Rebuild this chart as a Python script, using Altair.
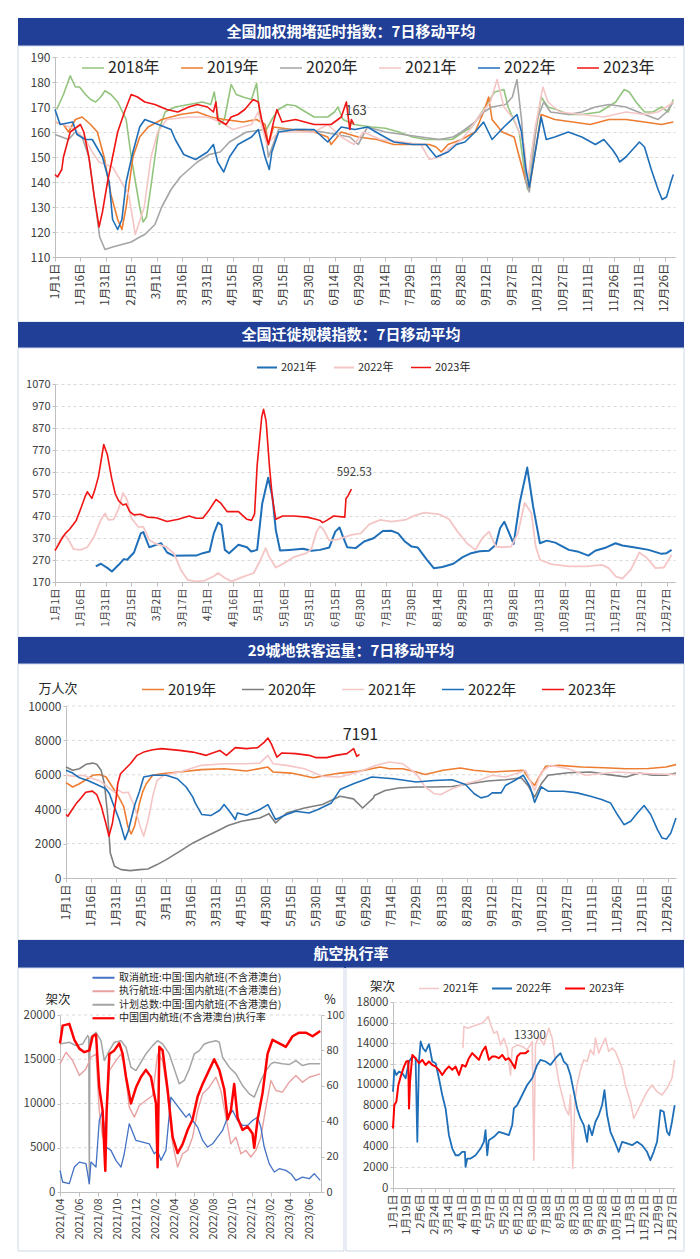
import altair as alt
import pandas as pd

FONT = "Noto Sans CJK SC"
HEAD_BG = "#213f96"
BORDER = "#cfd8e8"
GRID = "#d9d9d9"
AXC = "#bfbfbf"
LBL = "#404040"

title_congestion = "全国加权拥堵延时指数：7日移动平均"
title_migration = "全国迁徙规模指数：7日移动平均"
title_metro = "29城地铁客运量：7日移动平均"
title_air = "航空执行率"

ticks_leap = ["1月1日", "1月16日", "1月31日", "2月15日", "3月1日", "3月16日", "3月31日", "4月15日",
              "4月30日", "5月15日", "5月30日", "6月14日", "6月29日", "7月14日", "7月29日", "8月13日",
              "8月28日", "9月12日", "9月27日", "10月12日", "10月27日", "11月11日", "11月26日",
              "12月11日", "12月26日"]
ticks_migr = ["1月1日", "1月16日", "1月31日", "2月15日", "3月2日", "3月17日", "4月1日", "4月16日",
              "5月1日", "5月16日", "5月31日", "6月15日", "6月30日", "7月15日", "7月30日", "8月14日",
              "8月29日", "9月13日", "9月28日", "10月13日", "10月28日", "11月12日", "11月27日",
              "12月12日", "12月27日"]
ticks_air = ["1月1日", "1月19日", "2月6日", "2月24日", "3月14日", "4月1日", "4月19日", "5月7日",
             "5月25日", "6月12日", "6月30日", "7月18日", "8月5日", "8月23日", "9月10日", "9月28日",
             "10月16日", "11月3日", "11月21日", "12月9日", "12月27日"]
ticks_month = ["2021/04", "2021/06", "2021/08", "2021/10", "2021/12", "2022/02", "2022/04",
               "2022/06", "2022/08", "2022/10", "2022/12", "2023/02", "2023/04", "2023/06"]

# ---------------- Panel 1: congestion index (day of year, value) ----------------
cong_names = ["2018年", "2019年", "2020年", "2021年", "2022年", "2023年"]
cong_colors = ["#93c47d", "#ed7d31", "#a5a5a5", "#f5c6c6", "#1f6fb8", "#f01414"]
cong_widths = [1.6, 1.6, 2.6, 1.6, 1.9, 3.0]

cong_2018 = [(1, 169), (5, 175), (9, 182.5), (12, 178), (14.5, 178), (18, 175), (21, 173), (24, 172),
             (27, 174), (29.5, 176.5), (33, 175), (37, 172), (42, 165), (45, 150), (47.5, 140),
             (50, 130), (52, 124), (54, 126), (57, 140), (59, 150), (61, 160), (65, 168), (71, 170),
             (79, 171), (87, 172), (92, 171), (94, 176), (97, 163), (100, 165), (104, 179), (107, 175),
             (111, 174), (116, 173), (119, 179.5), (121, 166), (124, 160), (128, 165), (132, 169),
             (137, 171), (142, 170.5), (148, 168), (153, 166), (161, 166), (165, 168), (167, 170),
             (170, 165), (176.5, 163), (187, 162), (195, 161.5), (203, 160), (211, 158), (219, 157),
             (228, 157), (234.5, 157), (241, 160), (246, 162), (250, 166), (254, 170), (259.5, 176),
             (265, 177), (267.5, 170), (274, 160), (277, 145), (279, 137), (281, 150), (285, 165),
             (287, 174), (291, 170), (296, 169), (303, 167), (311, 167), (321.5, 168), (331, 172),
             (336, 177), (339, 176), (343, 172), (348, 168), (353, 168), (358, 170), (362, 168),
             (365, 173)]
cong_2019 = [(0, 164), (5, 163), (8, 160), (12, 165), (16, 166), (21, 163), (25, 160), (29, 150),
             (33, 135), (37, 125), (39.5, 121), (42, 130), (46, 150), (50, 158), (55, 162), (63, 165),
             (74, 167), (84, 168), (92, 166), (100, 165), (111, 164), (119, 165), (124, 163),
             (126, 155), (129, 162), (140, 161), (153, 160), (161, 158), (163, 155), (169, 160),
             (179, 158), (190, 157), (200, 155), (211, 155), (221, 155), (225, 154), (228, 152),
             (232, 155), (240, 157), (248, 160), (253, 168), (256, 174), (258, 165), (264, 160),
             (271, 158), (278, 140), (280, 137), (283, 150), (287, 167), (295, 165), (305.7, 164),
             (316, 163), (327, 165), (337, 165), (348, 164), (358, 163), (365, 164)]
cong_2020 = [(0, 159), (4, 158), (8, 157), (12, 160), (16, 158), (20, 150), (24, 130), (26.4, 118),
             (29.5, 113), (34, 114), (39.5, 115), (45, 116), (50, 118), (53, 119), (59, 123), (63, 130),
             (68.5, 137), (74, 142), (79, 145), (84, 148), (91, 151), (97.5, 152), (103, 156),
             (113, 160), (124, 161), (126, 150), (132, 161), (148, 161), (158, 160), (174, 158),
             (179, 155), (184.5, 162), (195, 160), (205.5, 159), (216, 158), (227, 157), (235, 158),
             (240, 160), (248, 164), (253, 168), (258, 170), (266, 171), (270, 174), (272.7, 181),
             (275.4, 165), (278, 140), (280, 136), (282, 150), (284.6, 165), (288.5, 172),
             (292.5, 168), (303, 167), (311, 168), (319, 170), (327, 171), (337, 170), (348, 167),
             (356, 165), (361, 168), (365, 172)]
cong_2021 = [(0, 164), (5, 163), (12, 161), (18, 157), (22, 152), (26, 148), (34, 146), (43.5, 135),
             (47.4, 119), (52.7, 130), (56.7, 150), (60.6, 160), (66, 165), (79, 166), (90, 166),
             (97.5, 164), (105, 161), (116, 163), (120, 168), (125, 155), (132, 160), (153, 160),
             (161, 163), (169, 158), (176.5, 155), (182, 160), (192, 157), (205.5, 156), (216, 155),
             (221, 149), (227, 150), (232, 153), (240, 157), (245, 161), (250, 166), (257, 172),
             (261, 181), (265, 170), (271, 165), (277, 155), (279, 140), (283, 160), (288, 178),
             (291, 172), (298, 168), (311, 167), (324, 166), (337, 168), (348, 167), (356, 168),
             (361, 170), (365, 172)]
cong_2022 = [(0, 169), (3, 163), (10.5, 164), (13, 159), (18, 157), (22, 157), (28, 150), (32, 140),
             (34, 125), (37, 121), (39.5, 125), (42, 140), (46, 152), (50, 162), (53, 165), (61, 163),
             (68.5, 161), (71, 157), (76, 151), (83, 149), (90, 152), (93.5, 155), (96, 148),
             (99.6, 144), (103, 150), (108, 155), (116, 158), (120, 161), (124, 150), (126.5, 145),
             (128, 152), (132, 160), (142, 161), (153, 161), (161, 156), (169, 162), (177, 161),
             (184.5, 162), (192, 159), (200, 156), (211, 155), (219, 155), (225, 150), (232, 152),
             (237, 155), (242, 156), (248, 160), (253, 164), (258, 157), (265, 162), (272.7, 167),
             (275.4, 160), (278, 145), (280, 138), (283, 150), (287, 166), (290, 157), (295, 158),
             (303, 160), (311, 158), (319, 155), (324, 157), (329, 153), (332, 150), (333.3, 148),
             (337, 150), (341, 153), (345, 156), (348, 154), (352, 145), (356, 137), (358.4, 133),
             (361, 134), (363.6, 140), (365, 143)]
cong_2023 = [(0, 143), (1.5, 142), (4, 145), (5, 150), (9, 160), (13, 162), (15, 163), (17, 160),
             (20, 150), (23, 135), (26, 122), (28, 128), (31, 140), (34, 150), (37, 160), (41, 168),
             (45, 175), (48.7, 174), (53, 172), (59, 171), (66, 169), (72.5, 168), (79, 170),
             (84, 171), (90, 170), (93.5, 168), (95, 172), (96, 165), (101, 163), (104, 166),
             (108, 167), (112, 169), (117, 173), (120, 172), (122, 165), (124, 160), (126, 155),
             (129, 164), (131, 169), (134, 164), (142, 165), (153, 163), (163, 163), (169, 166),
             (172, 172), (174, 161), (175, 165), (176.5, 163)]
cong_note = "163"

# ---------------- Panel 2: migration index ----------------
migr_names = ["2021年", "2022年", "2023年"]
migr_colors = ["#1f6fb8", "#f5c6c6", "#f01414"]
migr_widths = [2.0, 1.6, 3.0]

migr_2021 = [(24, 241), (27, 253), (31, 233), (33.5, 218), (37.5, 248), (40.5, 274), (42.5, 271),
             (46.5, 304), (50.5, 391), (52, 397), (55.5, 328), (59.5, 339), (62.5, 346), (66, 304),
             (70, 289), (78, 290), (83, 290), (87, 301), (91, 309), (93.5, 391), (96, 440), (98, 429),
             (100, 316), (102.5, 301), (108, 339), (113, 328), (115.5, 309), (119, 316), (122, 527),
             (125.5, 644), (128, 557), (130, 406), (132.5, 313), (138, 316), (146, 321), (151, 312),
             (156, 316), (161.5, 327), (165, 399), (167.5, 418), (169.5, 376), (172, 328), (177, 324),
             (182, 354), (187.5, 369), (193, 402), (198, 403), (202, 391), (206, 354), (210, 331),
             (213.5, 327), (219, 271), (223, 233), (228, 238), (234.5, 253), (240, 283), (245, 301),
             (250, 310), (255.5, 312), (259.5, 339), (262, 414), (264.5, 444), (267, 399), (270, 343),
             (273.5, 527), (278, 690), (281.5, 512), (285.5, 346), (289.5, 358), (294.5, 349),
             (302.5, 316), (307.5, 309), (314, 290), (318, 312), (324.5, 327), (330, 346), (334, 336),
             (341.5, 327), (349.5, 316), (357, 298), (360, 301), (363, 316)]
migr_2022 = [(0, 316), (3.5, 369), (6, 384), (8.5, 354), (11, 319), (15, 316), (19, 328), (23, 376),
             (27, 452), (29.5, 482), (31.5, 452), (34.5, 455), (37.5, 504), (40, 575), (42.5, 542),
             (45, 459), (49, 421), (52, 421), (55.5, 361), (59.5, 343), (65, 331), (70, 301), (74, 226),
             (78, 180), (83, 173), (88, 176), (93.5, 196), (96, 211), (100, 188), (104, 173),
             (110.5, 193), (117, 211), (121, 271), (124, 324), (126, 286), (130, 236), (135, 256),
             (140.5, 283), (148, 301), (151, 321), (154, 399), (156, 424), (158, 409), (161.5, 358),
             (166.5, 364), (174.5, 384), (180, 391), (185, 432), (191.5, 452), (198, 444), (206, 452),
             (212.5, 474), (217.5, 485), (226.5, 477), (232, 455), (237, 399), (242.5, 346),
             (247.5, 316), (251.5, 369), (255.5, 399), (259.5, 331), (263.5, 328), (268.5, 331),
             (272.5, 391), (276.5, 530), (280.5, 482), (283, 331), (285.5, 271), (292, 251),
             (302.5, 241), (313, 241), (322, 248), (326, 233), (330, 196), (334, 185), (339, 226),
             (344, 304), (348, 283), (353.5, 233), (358.5, 236), (363, 294)]
migr_2023 = [(0, 313), (2, 339), (4.7, 376), (6, 390), (8.6, 410), (12.5, 450), (15, 500), (17.8, 560),
             (19, 580), (21.7, 550), (23.5, 590), (25.6, 650), (28.7, 795), (30.8, 750), (33.4, 640),
             (35.5, 570), (37.4, 540), (40, 520), (41.8, 525), (44, 490), (46.5, 475), (50.4, 478),
             (54.3, 465), (59.6, 462), (66, 445), (72.6, 455), (79, 470), (83, 460), (87, 460),
             (91, 500), (94.8, 545), (97.4, 530), (101.3, 490), (108, 490), (113, 455), (115.7, 450),
             (117.5, 480), (119, 700), (121.7, 920), (122.8, 955), (124.3, 900), (126.2, 700),
             (128, 550), (130, 455), (134, 470), (140.5, 470), (148.4, 465), (153.6, 455), (156, 450),
             (157.5, 440), (160, 450), (164, 470), (170.6, 465), (171.3, 550), (172.4, 560),
             (174.5, 592.53)]
migr_note = "592.53"

# ---------------- Panel 3: metro ridership (万人次) ----------------
metro_names = ["2019年", "2020年", "2021年", "2022年", "2023年"]
metro_colors = ["#ed7d31", "#7f7f7f", "#f5c6c6", "#1f6fb8", "#f01414"]
metro_widths = [1.6, 1.6, 1.6, 2.6, 2.6]

metro_2019 = [(0, 5550), (4, 5290), (8, 5480), (12, 5710), (16, 5970), (20, 6020), (24, 5870),
              (26.5, 5480), (29, 5100), (31, 4800), (34.5, 4170), (37, 3000), (39, 2560), (41, 3000),
              (44, 4365), (46, 5040), (48, 5480), (51.9, 5970), (57, 6060), (68, 6160), (81, 6300),
              (94.6, 6350), (108, 6220), (120.8, 6450), (124, 6160), (134.7, 6100), (148, 5830),
              (156, 5970), (164, 6100), (175, 6200), (188, 6450), (193.5, 6350), (201.5, 6350),
              (209.6, 6160), (215, 6020), (225.6, 6260), (236, 6400), (244, 6260), (255, 6160),
              (265.7, 6220), (273.7, 6260), (277.7, 5670), (280.4, 5380), (283, 5870), (287, 6490),
              (295, 6550), (308.5, 6450), (322, 6410), (335, 6350), (348.6, 6370), (359, 6450),
              (365, 6590)]
metro_2020 = [(0, 6450), (4, 6260), (8, 6350), (12, 6610), (16, 6680), (18.4, 6610), (21, 6260),
              (23, 5480), (25, 3590), (26.5, 1460), (29, 680), (33, 485), (38.5, 430), (44, 485),
              (49, 525), (54.5, 780), (60, 1070), (68, 1550), (76, 2040), (84, 2425), (92, 2810),
              (97, 3050), (105, 3300), (116, 3490), (121.4, 3740), (125.4, 3200), (132, 3780),
              (142.7, 4070), (153.4, 4270), (164, 4750), (172, 4600), (177.5, 4070), (184, 4660),
              (184.5, 4800), (191, 5090), (199, 5230), (209.6, 5290), (220, 5290), (231, 5320),
              (241.6, 5480), (252.3, 5640), (263, 5710), (272.4, 5830), (276.4, 5380), (280.4, 4700),
              (284.4, 5480), (288.4, 5970), (300.5, 6120), (313.8, 6160), (324.5, 6010), (335.2, 5870),
              (343, 6100), (351, 5970), (359, 5970), (365, 6100)]
metro_2021 = [(0, 5970), (5, 5910), (10, 5970), (14.4, 5830), (19.8, 5670), (25.1, 5290), (29, 4990),
              (31, 5140), (34, 4950), (37.2, 4990), (41, 4170), (44.4, 3000), (46.5, 2425),
              (49.2, 3400), (51.9, 4750), (54.5, 5670), (58.5, 5970), (68, 6160), (81, 6550),
              (94.6, 6640), (108, 6640), (116, 6680), (120.8, 7130), (124, 6640), (132, 6550),
              (142.7, 6350), (153.4, 5910), (164, 5870), (175, 6160), (185.5, 6550), (193.5, 6740),
              (201.5, 6640), (209.6, 6060), (214.9, 5290), (220.3, 4900), (224.3, 4850), (231, 5190),
              (239, 5480), (247, 5670), (255, 5970), (263, 5870), (272.4, 6160), (275, 6260),
              (277.7, 5670), (280.4, 5090), (284.4, 6160), (289.8, 6550), (300.5, 6350), (311, 5970),
              (319, 6060), (330, 6160), (340.5, 6100), (351, 6060), (365, 6020)]
metro_2022 = [(0, 6260), (4, 6100), (8, 5830), (13, 5670), (18.4, 5440), (23.8, 5190), (26, 4900),
              (28, 4365), (31.8, 3400), (35.3, 2230), (37.2, 2720), (41.2, 4270), (44, 5040),
              (46.5, 5870), (51.9, 5970), (59.9, 5970), (66.6, 5770), (71.9, 5290), (75.9, 4700),
              (77.3, 4365), (81.3, 3690), (86.6, 3630), (92, 3940), (94.6, 4270), (98.6, 3780),
              (101.3, 3400), (102.6, 3780), (108, 3650), (116, 3980), (120.8, 4270), (125.4, 3400),
              (132, 3690), (137.4, 3880), (145.4, 3780), (150.8, 3980), (158.8, 4365), (164, 5140),
              (172, 5480), (183, 5870), (196, 5770), (209.6, 5580), (220.3, 5670), (231, 5710),
              (239, 5440), (244.3, 4900), (248.3, 4660), (252.3, 4750), (255, 4950), (260.4, 4950),
              (263, 5380), (268.4, 5670), (273.7, 5970), (277.7, 5290), (280.4, 4400), (284.4, 5300),
              (288.4, 5050), (297.8, 5040), (305.8, 4950), (313.8, 4750), (320.5, 4560), (325.8, 4365),
              (329.9, 3690), (333.9, 3100), (337.9, 3300), (341.9, 3780), (345.9, 4210), (349.9, 3690),
              (353.9, 2810), (356.6, 2330), (359.3, 2270), (361.9, 2620), (365, 3490)]
metro_2023 = [(0, 3690), (1.1, 3590), (3.7, 3980), (6.4, 4365), (9.1, 4660), (11.8, 4990), (15.8, 5050),
              (18.4, 4850), (21.1, 4170), (23.8, 3200), (25.7, 2425), (27.8, 3200), (29.9, 4560),
              (31, 5500), (32.6, 6060), (34.5, 6250), (38.5, 6640), (42.5, 7130), (46.5, 7320),
              (51.9, 7460), (57.2, 7520), (67.9, 7420), (75.9, 7320), (83.9, 7130), (92, 7420),
              (96, 7130), (101.3, 7580), (108, 7520), (114.7, 7580), (118.7, 7900), (120.8, 8140),
              (122.8, 7810), (126.2, 7030), (129.2, 7270), (137.4, 7230), (145.4, 7130), (149.4, 7000),
              (156.1, 7000), (161.4, 7130), (168.1, 7230), (172.1, 7520), (174, 7070), (175.6, 7191)]
metro_note = "7191"
metro_unit = "万人次"

# ---------------- Panel 4a: domestic flights (month index from 2021/04) ----------------
air_names = ["取消航班:中国:国内航班(不含港澳台)", "执行航班:中国:国内航班(不含港澳台)",
             "计划总数:中国:国内航班(不含港澳台)", "中国国内航班(不含港澳台)执行率"]
air_colors = ["#4472c4", "#e8a1a1", "#a5a5a5", "#ff0000"]
air_widths = [1.3, 1.5, 2.5]

air_plan = [(0, 16730), (0.97, 16920), (1.67, 16540), (2.37, 16730), (2.89, 17670), (3.0, 17500),
            (3.06, 940), (3.12, 17000), (3.23, 17480), (3.76, 18050), (4.28, 17100), (4.63, 14850),
            (5.15, 15980), (5.67, 16920), (6.37, 17100), (6.89, 16360), (7.41, 14100), (7.93, 13720),
            (8.45, 14660), (8.97, 15600), (9.67, 16540), (10.19, 17100), (10.71, 16730), (11.41, 15600),
            (11.93, 13910), (12.45, 12220), (12.97, 12600), (13.5, 13910), (14.02, 15600), (14.54, 15980),
            (15.06, 16730), (15.58, 16920), (16.28, 17100), (16.63, 16920), (16.97, 15230), (17.67, 14100),
            (18.37, 13350), (19.06, 12030), (19.76, 11090), (20.28, 10720), (20.63, 11660), (20.97, 12600),
            (21.5, 13720), (22.02, 14480), (22.37, 14660), (23.23, 14480), (23.93, 14400), (24.63, 14850),
            (25.32, 14290), (26.02, 14480), (27.17, 14480)]
air_exec = [(0, 14480), (0.63, 15790), (1.32, 14850), (2.02, 13160), (2.71, 13910), (3.23, 15230),
            (3.76, 15600), (4.1, 9210), (4.45, 6200), (4.8, 8080), (5.15, 13720), (5.84, 14850),
            (6.37, 15600), (6.71, 14480), (7.23, 9590), (7.76, 8460), (8.28, 9780), (8.97, 10340),
            (9.67, 10900), (10.19, 15600), (10.71, 14850), (11.23, 11090), (11.76, 5450), (12.28, 2820),
            (12.8, 4320), (13.32, 4700), (13.84, 6200), (14.37, 9210), (14.89, 11090), (15.58, 11840),
            (16.28, 12970), (16.8, 11470), (17.32, 8460), (17.84, 5450), (18.37, 6200), (18.89, 4320),
            (19.41, 4700), (19.93, 3950), (20.45, 4700), (20.97, 6200), (21.5, 9590), (22.02, 12600),
            (22.54, 11470), (23.23, 11280), (23.93, 12410), (24.63, 13160), (25.32, 12410),
            (26.02, 12970), (27.17, 13350)]
air_cancel = [(0, 2440), (0.28, 1130), (0.97, 940), (1.5, 2820), (2.02, 3380), (2.71, 3200), (3.06, 940),
              (3.23, 3380), (3.76, 2820), (4.1, 8080), (4.45, 9210), (4.8, 5080), (5.32, 4700),
              (5.84, 3570), (6.37, 2820), (6.71, 4320), (7.23, 7710), (7.93, 5830), (8.63, 5640),
              (9.32, 5450), (9.84, 4320), (10.19, 4700), (10.54, 3570), (11.06, 4700), (11.58, 10720),
              (12.1, 9960), (12.63, 9210), (13.15, 8460), (13.5, 8840), (13.84, 8080), (14.37, 7330),
              (14.89, 5830), (15.41, 5080), (15.93, 5450), (16.45, 6200), (16.97, 6960), (17.5, 8460),
              (18.02, 9210), (18.54, 8080), (19.06, 7520), (19.58, 7520), (20.1, 8080), (20.63, 8460),
              (20.97, 7330), (21.32, 5080), (21.84, 3200), (22.37, 2260), (22.89, 2630), (23.58, 2440),
              (24.1, 2070), (24.63, 1320), (25.32, 1690), (26.02, 1500), (26.54, 2070), (27.17, 1320)]
air_rate = [(0, 84), (0.28, 94), (0.97, 95), (1.5, 86), (2.02, 81), (2.54, 79), (3.06, 80), (3.41, 88),
            (3.76, 89), (4.1, 59), (4.45, 46), (4.73, 12), (4.87, 46), (5.15, 78), (5.67, 80), (6.19, 84),
            (6.54, 78), (6.89, 65), (7.41, 50), (7.93, 59), (8.45, 65), (8.97, 69), (9.5, 65), (10.02, 50),
            (10.19, 14), (10.37, 82), (10.71, 80), (11.23, 58), (11.76, 31), (12.28, 22), (12.8, 27),
            (13.32, 35), (13.84, 41), (14.37, 54), (14.89, 61), (15.58, 69), (16.1, 75), (16.63, 69),
            (17.15, 58), (17.5, 41), (17.84, 46), (18.19, 61), (18.54, 42), (19.06, 35), (19.58, 37),
            (20.1, 33), (20.28, 25), (20.63, 41), (21.15, 56), (21.67, 78), (22.19, 86), (22.89, 84),
            (23.58, 82), (24.28, 88), (24.97, 90), (25.67, 90), (26.37, 88), (27.17, 91)]
air_unit_left = "架次"
air_unit_right = "%"

# ---------------- Panel 4b: executed flights by year ----------------
fl_names = ["2021年", "2022年", "2023年"]
fl_colors = ["#f5c6c6", "#1f6fb8", "#ff0000"]
fl_widths = [1.6, 2.0, 2.6]

fl_2021 = [(90, 13530), (91.3, 15630), (95.6, 15470), (102, 15630), (108.4, 15800), (114.9, 15960),
           (119.1, 16280), (122.6, 16610), (125.6, 15800), (129.9, 14990), (134.1, 15150), (138.4, 13850),
           (142.7, 14500), (147, 13530), (151.3, 10940), (153.4, 13530), (159.9, 13850), (166.3, 13690),
           (172.7, 13370), (179.2, 14180), (181.3, 2690), (183.4, 13850), (187.7, 14660), (194.2, 13850),
           (200.6, 15470), (204.9, 14500), (209.2, 12240), (213.4, 10290), (217.7, 9000), (222, 7700),
           (226.3, 7060), (228.4, 9000), (231.4, 1880), (234, 8350), (237, 9970), (241.3, 11430),
           (245.6, 12400), (249.9, 12240), (254.2, 13370), (258.4, 12880), (260.6, 14500), (264.9, 13050),
           (269.2, 13850), (273.4, 14500), (277.7, 13210), (282, 13530), (286.3, 13210), (290.6, 12400),
           (294.9, 11590), (299.1, 9970), (305.6, 8350), (309.9, 6730), (314.2, 7380), (320.6, 8350),
           (327, 9320), (333.4, 9970), (339.9, 9320), (346.3, 9000), (352.7, 9650), (359.1, 10620),
           (362.6, 12400)]
fl_2022 = [(0, 9320), (1.7, 11430), (4.3, 10940), (7.7, 11260), (12, 11100), (16.3, 10620), (20.6, 12240),
           (24.9, 12720), (29.1, 12560), (31.3, 4470), (33.4, 12240), (35.6, 14180), (38.6, 13530),
           (42, 13210), (46.3, 13920), (50.6, 12240), (54.9, 12070), (59.1, 10620), (63.4, 9000),
           (67.7, 7700), (72, 5110), (76.3, 3820), (80.6, 3170), (84.9, 3170), (89.1, 3500), (92.6, 3500),
           (93.4, 2040), (95.6, 2850), (99.9, 2850), (106.3, 3170), (112.7, 3820), (117, 4470),
           (119.1, 5600), (121.3, 3170), (123.4, 4630), (129.9, 4950), (136.3, 5440), (142.7, 5280),
           (149.1, 5110), (153.4, 6090), (155.6, 7700), (159.9, 8030), (166.3, 9000), (172.7, 9970),
           (179.2, 10620), (185.6, 11910), (189.9, 12400), (196.3, 12240), (202.7, 11910), (209.2, 12560),
           (215.6, 13050), (219.9, 12240), (224.2, 11910), (228.4, 10940), (232.7, 9320), (237, 7700),
           (241.3, 6730), (245.6, 6090), (249.9, 4470), (252, 6090), (256.3, 5110), (260.6, 6410),
           (264.9, 7060), (269.2, 8030), (272.2, 9480), (275.6, 7060), (279.9, 5440), (286.3, 4310),
           (290.6, 3500), (294.9, 4470), (301.3, 4310), (307.7, 4140), (314.2, 4470), (320.6, 4140),
           (327, 3500), (331.3, 2690), (335.6, 3500), (339.9, 4470), (344.2, 7540), (348.5, 7380),
           (352.7, 5440), (355.7, 5110), (359.1, 6410), (362.6, 8030)]
fl_2023 = [(0, 5760), (1.7, 8030), (4.3, 8350), (6.9, 9970), (9.9, 10780), (14.1, 11750), (17.1, 12240),
           (19.7, 12300), (20.6, 7700), (21.9, 10290), (24.9, 12880), (29.1, 12560), (33.4, 12070),
           (37.7, 12400), (42, 11910), (46.3, 12240), (50.6, 11910), (54.9, 11750), (59.1, 11430),
           (63.4, 10940), (67.7, 11430), (72, 11750), (76.3, 11430), (80.6, 11750), (84.9, 10940),
           (89.1, 11910), (93.4, 11750), (97.7, 12560), (102, 13050), (106.3, 12720), (110.6, 12400),
           (114.9, 13210), (119.1, 13690), (123.4, 12400), (127.7, 12720), (132, 12720), (136.3, 12560),
           (140.6, 12880), (144.9, 12400), (149.1, 12560), (153.4, 12070), (156.9, 11590), (159.9, 12720),
           (164.1, 13050), (170.6, 13050), (174.9, 13300)]
fl_note = "13300"
fl_unit = "架次"


# ---------------- helpers ----------------
def frame(names, series):
    rows = []
    for n, pts in zip(names, series):
        for d, v in pts:
            rows.append({"s": n, "d": d, "v": v})
    return pd.DataFrame(rows)


def lab_expr(labels, step):
    arr = ",".join("'" + s + "'" for s in labels)
    return "[" + arr + "][round(datum.value / " + str(step) + ")]"


def x_axis(labels, step, size=11):
    return alt.Axis(values=[i * step for i in range(len(labels))], labelExpr=lab_expr(labels, step),
                    labelAngle=270, labelFontSize=size, labelFont=FONT, labelColor=LBL,
                    labelOverlap=False, labelFlush=False, labelPadding=2, tickSize=4,
                    tickColor=AXC, domainColor=AXC, grid=False, title=None)


def y_axis(vals, size=12, grid=True, orient="left", offset=0):
    return alt.Axis(values=vals, orient=orient, format="d", labelFontSize=size, labelFont=FONT,
                    labelColor=LBL, labelPadding=2, tickSize=3, tickColor=AXC, domainColor=AXC,
                    grid=grid, gridDash=[3, 3], gridColor=GRID, title=None, minExtent=0,
                    labelFlush=False, labelOverlap=False, offset=offset)


def legend(x, y, size, clip, pad, direction="horizontal", sym=440, rowpad=0):
    return alt.Legend(orient="none", legendX=x, legendY=y, direction=direction, title=None,
                      labelFontSize=size, labelFont=FONT, labelColor="#262626", symbolType="stroke",
                      symbolSize=sym, symbolStrokeWidth=2.2, columnPadding=pad, rowPadding=rowpad,
                      labelOffset=3, clipHeight=clip, labelLimit=400)


def border(x1, x2, y1, y2):
    return alt.Chart(pd.DataFrame({"b": [0]})).mark_rect(
        fill="white", fillOpacity=0, stroke=BORDER, strokeWidth=1
    ).encode(x=alt.value(x1), x2=alt.value(x2), y=alt.value(y1), y2=alt.value(y2))


def header(text, h, top, bh):
    df = pd.DataFrame({"t": [text]})
    bg = alt.Chart(df).mark_rect(fill=HEAD_BG).encode(
        x=alt.value(-37), x2=alt.value(629), y=alt.value(top), y2=alt.value(top + bh))
    tx = alt.Chart(df).mark_text(color="white", fontSize=15, fontWeight="bold", font=FONT,
                                 align="center", baseline="middle").encode(
        x=alt.value(296), y=alt.value(top + bh / 2), text="t:N")
    return alt.layer(bg, tx).properties(width=620, height=h)


def lines(df, names, cols, widths, xs, ys, xax, yax, leg):
    return alt.Chart(df).mark_line(strokeJoin="round").encode(
        x=alt.X("d:Q", scale=xs, axis=xax),
        y=alt.Y("v:Q", scale=ys, axis=yax),
        color=alt.Color("s:N", scale=alt.Scale(domain=names, range=cols), legend=leg, sort=names),
        strokeWidth=alt.StrokeWidth("s:N", scale=alt.Scale(domain=names, range=widths), legend=None),
        detail="s:N",
    )


def note(pts, text, dx, dy, size, xs, ys, xax, yax, color="#404040"):
    d, v = pts[-1]
    return alt.Chart(pd.DataFrame({"d": [d], "v": [v], "t": [text]})).mark_text(
        dx=dx, dy=dy, fontSize=size, font=FONT, color=color, align="center", baseline="middle"
    ).encode(x=alt.X("d:Q", scale=xs, axis=xax), y=alt.Y("v:Q", scale=ys, axis=yax), text="t:N")


def grid_rules(vals, ys, yax, x1, x2):
    return alt.Chart(pd.DataFrame({"v": vals})).mark_rule(
        color=GRID, strokeDash=[3, 3], strokeWidth=1
    ).encode(y=alt.Y("v:Q", scale=ys, axis=yax), x=alt.value(x1), x2=alt.value(x2))


def label(text, x, y, size=12, align="center"):
    return alt.Chart(pd.DataFrame({"t": [text]})).mark_text(
        fontSize=size, font=FONT, color="#262626", align=align, baseline="middle"
    ).encode(x=alt.value(x), y=alt.value(y), text="t:N")


# ---------------- panel 1 ----------------
df1 = frame(cong_names, [cong_2018, cong_2019, cong_2020, cong_2021, cong_2022, cong_2023])
xs1 = alt.Scale(domain=[0, 366], nice=False, zero=False)
ys1 = alt.Scale(domain=[110, 190], nice=False, zero=False)
xa1 = x_axis(ticks_leap, 15, 11.5)
ya1 = y_axis(list(range(110, 191, 10)), 12)
p1 = alt.layer(
    border(-37, 629, -11, 265),
    lines(df1, cong_names, cong_colors, cong_widths, xs1, ys1, xa1, ya1,
          legend(26, 2, 16, 18, 20, sym=484)),
    note(cong_2023, cong_note, 2, -14, 13, xs1, ys1, xa1, ya1),
).properties(width=620, height=200)

# ---------------- panel 2 ----------------
df2 = frame(migr_names, [migr_2021, migr_2022, migr_2023])
xs2 = alt.Scale(domain=[0, 365], nice=False, zero=False)
ys2 = alt.Scale(domain=[170, 1070], nice=False, zero=False)
xa2 = x_axis(ticks_migr, 15, 10.5)
ya2 = y_axis(list(range(170, 1071, 100)), 11)
p2 = alt.layer(
    border(-37, 629, -36, 253),
    lines(df2, migr_names, migr_colors, migr_widths, xs2, ys2, xa2, ya2,
          legend(201, -23, 11, 13, 16, sym=400)),
    note(migr_2023, migr_note, 3, -16, 11.5, xs2, ys2, xa2, ya2),
).properties(width=620, height=198)

# ---------------- panel 3 ----------------
df3 = frame(metro_names, [metro_2019, metro_2020, metro_2021, metro_2022, metro_2023])
xs3 = alt.Scale(domain=[0, 365], range=[11, 621], nice=False, zero=False)
ys3 = alt.Scale(domain=[0, 10000], nice=False, zero=False)
xa3 = x_axis(ticks_leap, 15, 11.5)
ya3 = y_axis(list(range(0, 10001, 2000)), 12, grid=False, offset=-11)
p3 = alt.layer(
    border(-37, 629, -42, 234),
    grid_rules(list(range(2000, 10001, 2000)), ys3, ya3, 11, 621),
    lines(df3, metro_names, metro_colors, metro_widths, xs3, ys3, xa3, ya3,
          legend(86, -25, 15, 17, 24, sym=484)),
    note(metro_2023, metro_note, 1, -19, 16, xs3, ys3, xa3, ya3, "#262626"),
    label(metro_unit, 3, -17, 13),
).properties(width=621, height=172)

# ---------------- panel 4a ----------------
df4 = frame(air_names[:3], [air_cancel, air_exec, air_plan])
df4 = pd.concat([df4[df4.s == air_names[2]], df4[df4.s == air_names[1]], df4[df4.s == air_names[0]]])
df4r = frame(air_names[3:], [air_rate])
air_scale = alt.Scale(domain=air_names, range=air_colors)
air_leg = legend(36, -30, 10, 11.5, 10, direction="vertical", sym=484, rowpad=1.5)
xs4 = alt.Scale(domain=[0, 27.25], range=[5, 266], nice=False, zero=False)
xa4 = x_axis(ticks_month, 2, 11)
yl4 = alt.Scale(domain=[0, 20000], range=[190, 13], nice=False, zero=False)
yr4 = alt.Scale(domain=[0, 100], range=[190, 13], nice=False, zero=False)
left4 = alt.Chart(df4).mark_line(strokeJoin="round").encode(
    x=alt.X("d:Q", scale=xs4, axis=xa4),
    y=alt.Y("v:Q", scale=yl4, axis=y_axis([0, 5000, 10000, 15000, 20000], 11.5, grid=False, offset=-5)),
    color=alt.Color("s:N", scale=air_scale, legend=air_leg, sort=air_names),
    strokeWidth=alt.StrokeWidth("s:N", scale=alt.Scale(domain=air_names[:3], range=air_widths),
                                legend=None),
    detail="s:N",
)
right4 = alt.Chart(df4r).mark_line(strokeJoin="round", strokeWidth=2.5).encode(
    x=alt.X("d:Q", scale=xs4, axis=xa4),
    y=alt.Y("v:Q", scale=yr4, axis=y_axis([0, 20, 40, 60, 80, 100], 11, grid=False, orient="right")),
    color=alt.Color("s:N", scale=air_scale, legend=air_leg, sort=air_names),
)
p4a = alt.layer(
    border(-37, 289, -34, 249),
    grid_rules([5000, 10000, 15000, 20000], yl4, None, 5, 266),
    left4,
    right4,
    label(air_unit_left, 3, -2, 12.5),
    label(air_unit_right, 275, -2, 12.5),
).resolve_scale(y="independent", strokeWidth="independent").properties(width=266, height=190)

# ---------------- panel 4b ----------------
df5 = frame(fl_names, [fl_2021, fl_2022, fl_2023])
xs5 = alt.Scale(domain=[0, 363], nice=False, zero=False)
ys5 = alt.Scale(domain=[0, 18000], nice=False, zero=False)
xa5 = x_axis(ticks_air, 18, 11)
ya5 = y_axis(list(range(0, 18001, 2000)), 11.5)
p4b = alt.layer(
    border(-47, 291, -34, 249),
    lines(df5, fl_names, fl_colors, fl_widths, xs5, ys5, xa5, ya5,
          legend(25, -20, 11, 13, 12, sym=400)),
    note(fl_2023, fl_note, 1, -15, 11.5, xs5, ys5, xa5, ya5),
    label(fl_unit, -10.5, -15, 12.5),
).properties(width=282, height=186)

bottom = alt.hconcat(p4a, p4b, spacing=72, bounds="flush").resolve_scale(
    color="independent", strokeWidth="independent")

chart = alt.vconcat(
    header(title_congestion, 39, 0, 28), p1,
    header(title_migration, 127, 65, 26), p2,
    header(title_metro, 124, 55, 27), p3,
    header(title_air, 124, 62, 28), bottom,
    spacing=0, bounds="flush",
).resolve_scale(color="independent", strokeWidth="independent").properties(
    padding={"left": 9, "top": 10, "right": 4, "bottom": 4}
).configure_view(strokeWidth=0).configure_text(font=FONT)

chart.save("out.html", embed_options={"renderer": "svg", "actions": False})
